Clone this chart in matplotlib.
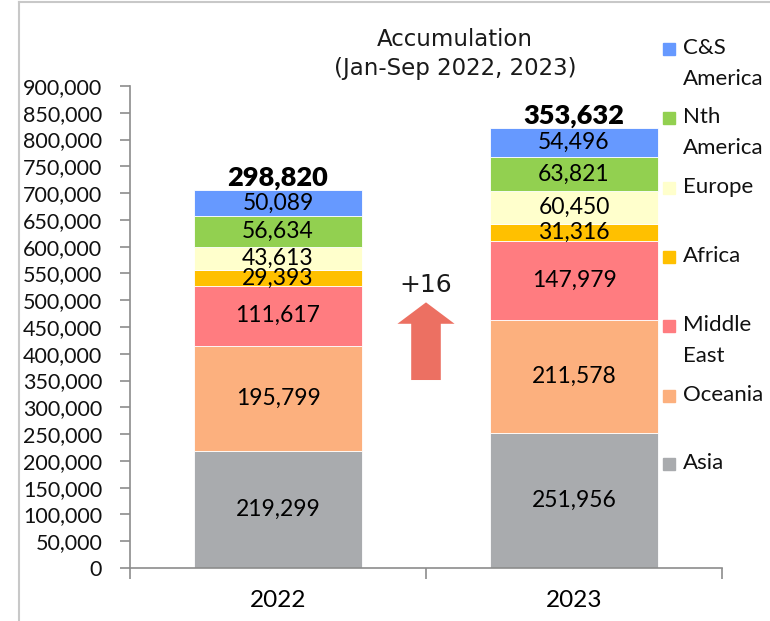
import numpy as np
import matplotlib
matplotlib.use('Agg')
import matplotlib.pyplot as plt
from matplotlib.lines import Line2D
from matplotlib.patches import FancyArrow, Rectangle

years = ['2022', '2023']
regions = ['Asia', 'Oceania', 'Middle East', 'Africa', 'Europe', 'Nth America', 'C&S America']
legend_labels = ['Asia', 'Oceania', 'Middle\nEast', 'Africa', 'Europe', 'Nth\nAmerica', 'C&S\nAmerica']
colors = ['#A9ABAE', '#FCB07E', '#FF7C80', '#FFC000', '#FFFFCC', '#92D050', '#6699FF']
values = {
    'Asia': [219299, 251956],
    'Oceania': [195799, 211578],
    'Middle East': [111617, 147979],
    'Africa': [29393, 31316],
    'Europe': [43613, 60450],
    'Nth America': [56634, 63821],
    'C&S America': [50089, 54496],
}
totals = ['298,820', '353,632']
change = '+16'

plt.rcParams['font.family'] = ['Lato', 'DejaVu Sans']

fig = plt.figure(figsize=(7.7, 6.21), dpi=100)
ax = fig.add_axes([130/770, 53/621, 592/770, 482/621])

x = np.arange(len(years))
bottom = np.zeros(len(years))
for reg, col in zip(regions, colors):
    v = np.array(values[reg])
    ax.bar(x, v, 0.57, bottom=bottom, color=col, edgecolor='white', linewidth=0.6)
    for xi, b, vi in zip(x, bottom, v):
        ax.text(xi, b + vi / 2, f'{vi:,}', ha='center', va='center',
                fontsize=16.5, color='#000000')
    bottom = bottom + v

for xi, top, t in zip(x, bottom, totals):
    ax.annotate(t, (xi, top), xytext=(0, 0), textcoords='offset points',
                ha='center', va='bottom', fontsize=19.5, fontweight='heavy')

# change arrow between the bars
ax.add_patch(FancyArrow(0.5, 351000, 0, 145000, width=0.1, head_width=0.193,
                        head_length=40000, length_includes_head=True,
                        color='#EC7062', linewidth=0))
ax.text(0.5, 528000, change, ha='center', va='center', fontsize=18,
        family='DejaVu Sans', color='#1a1a1a')

ax.set_xlim(-0.5, 1.5)
ax.set_ylim(0, 900000)
ax.set_yticks(np.arange(0, 900001, 50000))
ax.yaxis.set_major_formatter(matplotlib.ticker.FuncFormatter(lambda v, p: f'{int(v):,}'))
ax.set_xticks([-0.5, 0.5, 1.5])
ax.set_xticklabels([])
ax.set_xticks(x, minor=True)
ax.set_xticklabels(years, minor=True)
ax.tick_params(axis='x', which='major', length=8, color='#8C8C8C', width=1.2)
ax.tick_params(axis='x', which='minor', length=0, pad=16, labelsize=17.5)
ax.tick_params(axis='y', length=7, color='#8C8C8C', width=1.2, pad=13,
               labelsize=15.5, labelcolor='#111111')
for s in ['top', 'right']:
    ax.spines[s].set_visible(False)
for s in ['left', 'bottom']:
    ax.spines[s].set_color('#8C8C8C')
    ax.spines[s].set_linewidth(1.2)

# title
fig.text(455/770, 1 - 40/621, 'Accumulation', ha='center', va='center',
         fontsize=16.5, family='DejaVu Sans', color='#1a1a1a')
fig.text(455/770, 1 - 69/621, '(Jan-Sep 2022, 2023)', ha='center', va='center',
         fontsize=16.5, family='DejaVu Sans', color='#1a1a1a')

# legend drawn by hand, top entry first
leg_y = [464, 396, 326, 257, 188, 118, 49]
for lab, col, yy in zip(legend_labels, colors, leg_y):
    fig.patches.append(Rectangle((663/770, 1 - (yy + 6)/621), 12/770, 12/621,
                                 transform=fig.transFigure, color=col))
    for k, line in enumerate(lab.split('\n')):
        fig.text(683/770, 1 - (yy - 1 + 31 * k)/621, line, ha='left', va='center',
                 fontsize=16, color='#111111')

# chart frame (left and top edges visible)
fig.add_artist(Line2D([19/770, 19/770], [0, 1 - 2/621], transform=fig.transFigure,
                      color='#C8C8C8', linewidth=1.5))
fig.add_artist(Line2D([19/770, 1], [1 - 2/621, 1 - 2/621], transform=fig.transFigure,
                      color='#C8C8C8', linewidth=1.5))

fig.savefig('out.png', dpi=100)
